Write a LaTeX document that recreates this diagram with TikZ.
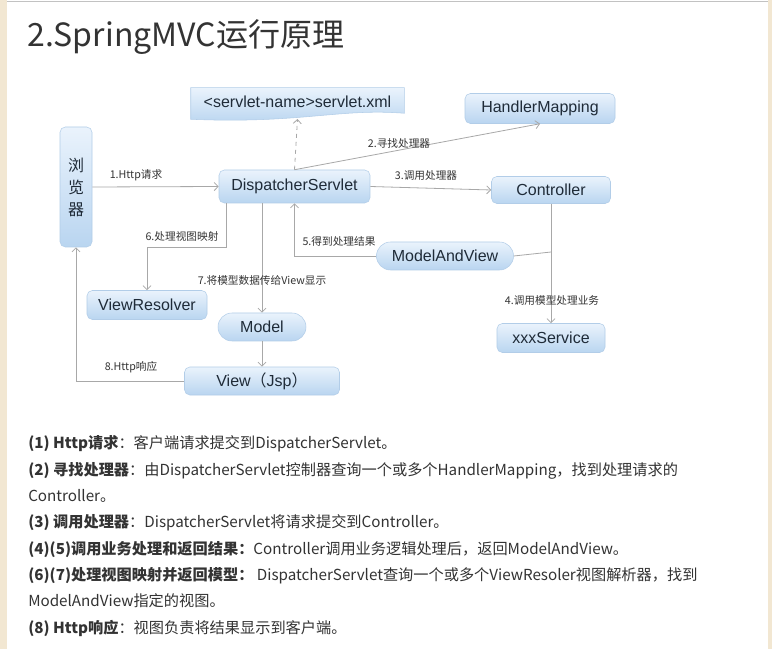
\documentclass[tikz,border=0pt]{standalone}
\usepackage{fontspec}
\setmainfont{Liberation Sans}
\newfontfamily\cjk{Noto Sans CJK SC}
\usetikzlibrary{arrows.meta,positioning,calc}
\definecolor{boxtop}{HTML}{EAF3FC}
\definecolor{boxbot}{HTML}{B9D5F0}
\definecolor{boxline}{HTML}{B2CDE8}
\definecolor{inktext}{HTML}{1F2B38}
\definecolor{wire}{HTML}{A8A8A8}
\definecolor{pagetext}{HTML}{333333}
\definecolor{margin}{HTML}{F2E7D2}
\tikzset{
  box/.style={rounded corners=4pt, draw=boxline, top color=boxtop, bottom color=boxbot,
    text=inktext, font=\fontsize{12}{14}\selectfont, inner sep=0pt},
  pill/.style={box, rounded corners=10.5pt},
  wlabel/.style={text=pagetext, font=\cjk\fontsize{8}{10}\selectfont, inner sep=0pt},
  notes/.style={anchor=base west, text=pagetext, font=\cjk\fontsize{11.4}{14}\selectfont, inner sep=0pt},
  arr/.style={->, wire, line width=0.6pt},
}

\begin{document}
\begin{tikzpicture}[x=0.75pt,y=-0.75pt,>={Straight Barb[length=3pt,width=6pt]}]
  \useasboundingbox (0,0) rectangle (772,649);
  \fill[white] (0,0) rectangle (772,649);
  \fill[margin] (0,0) rectangle (7,649);
  \fill[margin] (768,0) rectangle (772,649);
  \draw[wire!70,line width=0.8pt] (7,1.5) -- (768,1.5);

  % title
  \node[anchor=base west, text=pagetext, font=\cjk\fontsize{24}{30}\selectfont, inner sep=0pt] (title) at (27,47) {2.SpringMVC运行原理};

  % diagram boxes
  \node[box, minimum width=24pt, minimum height=90pt, font=\cjk\fontsize{12}{16.5}\selectfont, align=center] (browser) at (76,187) {浏\\览\\器};
  \node[box, minimum width=113.25pt, minimum height=24.75pt] (disp) at (294.5,186.5) {DispatcherServlet};
  \node[minimum width=159.75pt, minimum height=23.25pt, inner sep=0pt] (xml) at (297.5,103.5) {};
  \path[top color=boxtop, bottom color=boxbot, draw=boxline]
    (xml.north west) -- (xml.north east) -- ($(xml.south east)+(0,-6)$)
    .. controls (340,108) and (300,124) .. (xml.south west) -- cycle;
  \node[text=inktext, font=\fontsize{12}{14}\selectfont, inner sep=0pt] (xmltext) at (297.5,101.5) {<servlet-name>servlet.xml};
  \node[box, minimum width=112.5pt, minimum height=22.5pt] (hm) at (540,108.5) {HandlerMapping};
  \node[box, minimum width=89.25pt, minimum height=20.25pt] (ctrl) at (551,190) {Controller};
  \node[pill, minimum width=102.75pt, minimum height=21pt] (mav) at (445,256) {ModelAndView};
  \node[box, minimum width=81pt, minimum height=21.75pt] (svc) at (551,338) {xxxService};
  \node[box, minimum width=90pt, minimum height=21.75pt] (vr) at (147,305) {ViewResolver};
  \node[pill, minimum width=66pt, minimum height=21pt] (model) at (262,327) {Model};
  \node[box, minimum width=116.25pt, minimum height=21pt] (view) at (262,381) {View{\cjk（}Jsp{\cjk）}};

  % connectors
  \coordinate (join) at (551,252);
  \draw[arr] (browser.east) -- (disp.west);
  \draw[arr, dashed] (disp.north) -- (297.5,119);
  \draw[arr] (disp.north) -- (hm.south);
  \draw[arr] (disp.east) -- (ctrl.west);
  \draw[arr] (ctrl.south) -- (svc.north);
  \draw[wire, line width=0.6pt] (mav.east) -- (join);
  \draw[arr] (mav.west) -| (disp.south);
  \draw[arr] ([xshift=6]disp.south west) -- ++(0,44) -| (vr.north);
  \draw[arr] (disp.south -| model.north) -- (model.north);
  \draw[arr] (model.south) -- (view.north);
  \draw[arr] (view.west) -| (browser.south);

  % connector labels
  \node[wlabel] (l1) at (136,175) {1.Http请求};
  \node[wlabel] (l2) at (399,143) {2.寻找处理器};
  \node[wlabel] (l3) at (426,175) {3.调用处理器};
  \node[wlabel] (l4) at (552,300) {4.调用模型处理业务};
  \node[wlabel] (l5) at (339,241) {5.得到处理结果};
  \node[wlabel] (l6) at (182,236) {6.处理视图映射};
  \node[wlabel] (l7) at (262,280) {7.将模型数据传给View显示};
  \node[wlabel] (l8) at (131,367) {8.Http响应};

  % explanation
  \node[notes] (n1) at (28,448) {\textbf{(1) Http请求}：客户端请求提交到DispatcherServlet。};
  \node[notes] (n2) at (28,475) {\textbf{(2) 寻找处理器}：由DispatcherServlet控制器查询一个或多个HandlerMapping，找到处理请求的};
  \node[notes] (n3) at (28,501) {Controller。};
  \node[notes] (n4) at (28,527) {\textbf{(3) 调用处理器}：DispatcherServlet将请求提交到Controller。};
  \node[notes] (n5) at (28,554) {\textbf{(4)(5)调用业务处理和返回结果：}Controller调用业务逻辑处理后，返回ModelAndView。};
  \node[notes] (n6) at (28,580) {\textbf{(6)(7)处理视图映射并返回模型：} DispatcherServlet查询一个或多个ViewResoler视图解析器，找到};
  \node[notes] (n7) at (28,606) {ModelAndView指定的视图。};
  \node[notes] (n8) at (28,633) {\textbf{(8) Http响应}：视图负责将结果显示到客户端。};
\end{tikzpicture}
\end{document}
